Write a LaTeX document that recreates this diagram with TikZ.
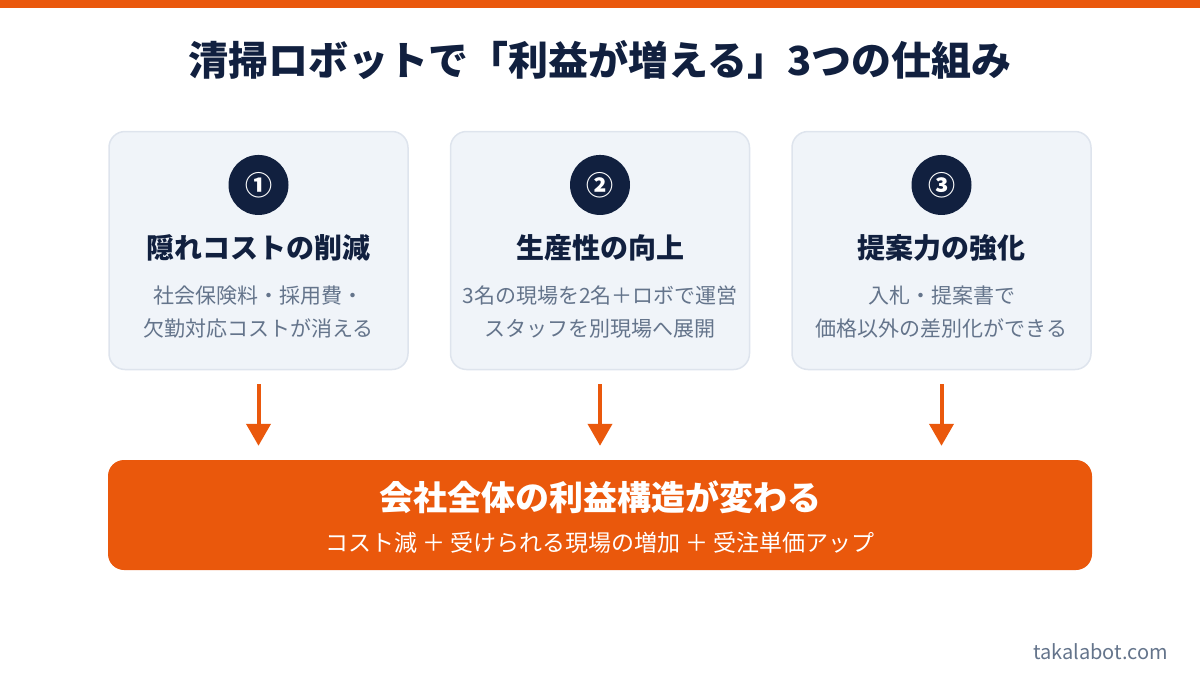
\documentclass[tikz,border=0pt]{standalone}
\usepackage{fontspec}
\setmainfont{Noto Sans CJK JP}
\usepackage{xcolor}
\usepackage{tikz}
\usetikzlibrary{positioning}
\usetikzlibrary{arrows.meta}

\definecolor{brand}{HTML}{EA580C}
\definecolor{navy}{HTML}{11203F}
\definecolor{muted}{HTML}{64748B}
\definecolor{cardfill}{HTML}{F0F4F9}
\definecolor{cardline}{HTML}{DEE4ED}

\begin{document}
\begin{tikzpicture}[
      x=1pt, y=-1pt,
      card/.style={draw=cardline, fill=cardfill, line width=1.5pt,
                   rounded corners=16pt, minimum width=299pt,
                   minimum height=238pt, inner sep=0pt},
      badge/.style={circle, fill=navy, minimum size=60pt, inner sep=0pt,
                    text=white, font=\fontsize{27}{27}\selectfont\bfseries},
      head/.style={text=navy, inner sep=0pt,
                   font=\fontsize{28}{28}\selectfont\bfseries},
      detail/.style={text=muted, inner sep=0pt, align=center,
                     font=\fontsize{21}{33}\selectfont},
      flow/.style={-{Triangle[width=24pt,length=22pt]}, draw=brand,
                   line width=4pt, shorten <=14pt, shorten >=14pt},
      result/.style={fill=brand, rounded corners=16pt, minimum width=984pt,
                     minimum height=110pt, inner sep=0pt}
    ]
    \useasboundingbox (0,0) rectangle (1200,675);

    % top bar and title
    \fill[brand] (0,0) rectangle (1200,8);
    \node[text=navy, inner sep=0pt, font=\fontsize{40}{40}\selectfont\bfseries]
      (title) at (600,60) {清掃ロボットで「利益が増える」3つの仕組み};

    % three cards
    \node[card] (cost) at (258.5,250.5) {};
    \node[card, right=41pt of cost] (prod) {};
    \node[card, right=41pt of prod] (offer) {};

    % card 1
    \node[badge, below=24pt of cost.north] (n1) {①};
    \node[head] (h1) at (cost |- 0,248) {隠れコストの削減};
    \node[detail] (d1) at (cost |- 0,312) {社会保険料・採用費・\\欠勤対応コストが消える};

    % card 2
    \node[badge, below=24pt of prod.north] (n2) {②};
    \node[head] (h2) at (prod |- 0,248) {生産性の向上};
    \node[detail] (d2) at (prod |- 0,312) {3名の現場を2名＋ロボで運営\\スタッフを別現場へ展開};

    % card 3
    \node[badge, below=24pt of offer.north] (n3) {③};
    \node[head] (h3) at (offer |- 0,248) {提案力の強化};
    \node[detail] (d3) at (offer |- 0,312) {入札・提案書で\\価格以外の差別化ができる};

    % result box
    \node[result] (result) at (600,515) {};
    \node[text=white, inner sep=0pt, font=\fontsize{34}{34}\selectfont\bfseries]
      (rtitle) at (600,497) {会社全体の利益構造が変わる};
    \node[text=white, inner sep=0pt, font=\fontsize{23}{23}\selectfont]
      (rsub) at (600,543) {コスト減 ＋ 受けられる現場の増加 ＋ 受注単価アップ};

    % arrows into the result
    \draw[flow] (cost.south) -- (cost.south |- result.north);
    \draw[flow] (prod.south) -- (prod.south |- result.north);
    \draw[flow] (offer.south) -- (offer.south |- result.north);

    % footer
    \node[text=muted, inner sep=0pt, anchor=east, font=\fontsize{20}{20}\selectfont]
      (site) at (1168,652) {takalabot.com};

  \end{tikzpicture}
\end{document}
